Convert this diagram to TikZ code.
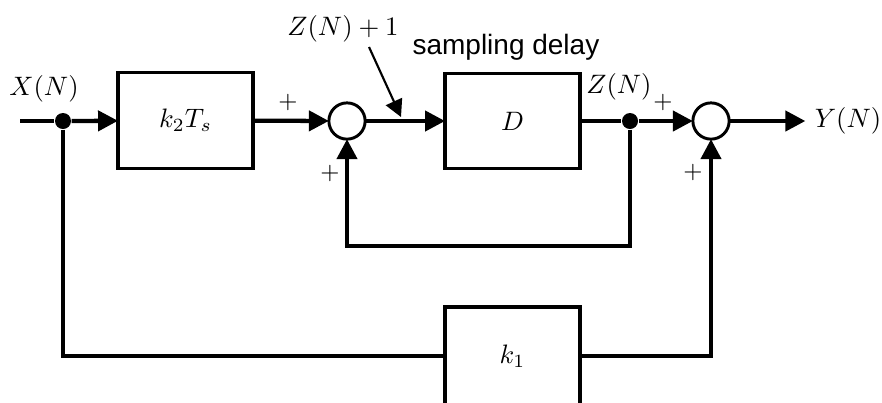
\documentclass[tikz,border=0pt]{standalone}
\usepackage{fontspec}
\newfontfamily\notefont{Liberation Sans}
\usetikzlibrary{positioning,arrows.meta}

\begin{document}
\begin{tikzpicture}[x=0.375pt, y=-0.375pt, every node/.style={font=\normalsize}, block/.style={draw,line width=1.2pt,minimum width=50.6pt,minimum height=35.8pt,inner sep=0pt,outer sep=0pt}, sumnode/.style={draw,circle,line width=1.1pt,fill=white,minimum size=13.6pt,inner sep=0pt,outer sep=0pt}, joint/.style={circle,fill,minimum size=6pt,inner sep=0pt}, sign/.style={font=\small,inner sep=0pt}, line/.style={line width=1.6pt}, arrow/.style={line,-{Triangle[length=7.5pt,width=7.5pt]}}, pointer/.style={line width=0.8pt,-{Triangle[length=6.4pt,width=6.6pt]}}]
\useasboundingbox (0,0) rectangle (882,402);
% forward path
\coordinate (xin) at (20,121);
\node[joint] (dot1) at (63,121) {};
\node[block] (k2) at (185.5,120.5) {$k_2T_s$};
\node[sumnode] (sum1) at (347,121) {};
\node[block] (delay) at (512.5,121) {$D$};
\node[joint] (dot2) at (630,121) {};
\node[sumnode] (sum2) at (711,121) {};
\node (yout) at (848,121) {$Y(N)$};
\node[block,minimum height=36.8pt] (k1) at (512.5,356) {$k_1$};
% labels
\node (xlab) at (44,89) {$X(N)$};
\node (zlab) at (619,87) {$Z(N)$};
\node (znext) at (343,29) {$Z(N)+1$};
\node[font=\notefont\fontsize{10.5}{12}\selectfont,anchor=base west,inner sep=0pt] (note) at (412,54) {sampling delay};
\node[sign] (p1) at (288,102) {$+$};
\node[sign] (p2) at (330,173) {$+$};
\node[sign] (p3) at (663,102) {$+$};
\node[sign] (p4) at (693,172) {$+$};
\coordinate (ztail) at (369,47);
\coordinate (ztip) at (401,117);
% connectors
\draw[line] (xin) -- (dot1);
\draw[arrow] (dot1) -- (k2);
\draw[arrow] (k2) -- (sum1);
\draw[arrow] (sum1) -- (delay);
\draw[line] (delay) -- (dot2);
\draw[arrow] (dot2) -- (sum2);
\draw[arrow] (sum2) -- (yout);
\draw[arrow] (dot2) -- ++(0,125) -| (sum1);
\draw[line] (dot1) |- (k1);
\draw[arrow] (k1) -| (sum2);
\draw[pointer] (ztail) -- (ztip);
\end{tikzpicture}
\end{document}
